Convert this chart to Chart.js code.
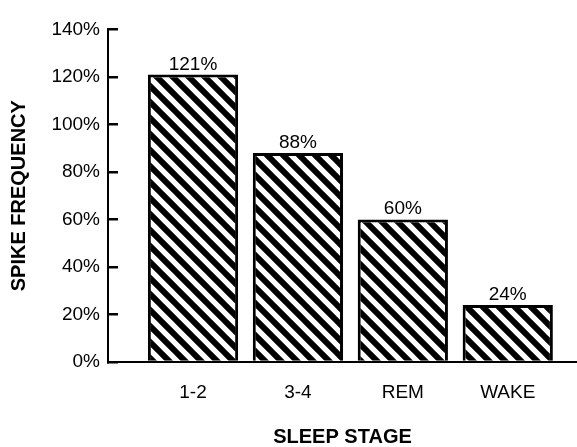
<!DOCTYPE html>
<html>
<head>
<meta charset="utf-8">
<title>Spike frequency by sleep stage</title>
<script src="https://cdn.jsdelivr.net/npm/chart.js@4.4.1/dist/chart.umd.min.js"></script>
<style>
  html, body { margin: 0; padding: 0; background: #fff; }
  canvas { display: block; }
</style>
</head>
<body>
<canvas id="myChart" width="577" height="447"></canvas>
<script>
// values
var stages = ['1-2', '3-4', 'REM', 'WAKE'];
var spikeFreq = [121, 88, 60, 24];
var yTicks = [0, 20, 40, 60, 80, 100, 120, 140];

var FONT = '"Liberation Sans", Arial, Helvetica, sans-serif';

// diagonal hatch like the printed bars
function hatch() {
    var s = 16;
    var c = document.createElement('canvas');
    c.width = s; c.height = s;
    var g = c.getContext('2d');
    g.fillStyle = '#fff';
    g.fillRect(0, 0, s, s);
    g.strokeStyle = '#000';
    g.lineWidth = 6;
    g.beginPath();
    [-s, 0, s].forEach(function(o) {
        g.moveTo(o - 2, -2);
        g.lineTo(o + s + 2, s + 2);
    });
    g.stroke();
    return g.createPattern(c, 'repeat');
}

// percent text on top of each bar
var barLabels = {
    id: 'barLabels',
    afterDatasetsDraw: function(chart) {
        var ctx = chart.ctx;
        var meta = chart.getDatasetMeta(0);
        ctx.save();
        ctx.font = '19px ' + FONT;
        ctx.fillStyle = '#000';
        ctx.textAlign = 'center';
        ctx.textBaseline = 'alphabetic';
        meta.data.forEach(function(bar, i) {
            ctx.fillText(spikeFreq[i] + '%', bar.x, bar.y - 5);
        });
        ctx.restore();
    }
};

var points = stages.map(function(s, i) { return { x: i + 1, y: spikeFreq[i] }; });

var chart = new Chart(document.getElementById('myChart').getContext('2d'), {
    type: 'bar',
    data: {
        datasets: [{
            data: points,
            backgroundColor: hatch(),
            borderColor: '#000',
            borderWidth: 3,
            barPercentage: 0.86,
            categoryPercentage: 1
        }]
    },
    options: {
        responsive: false,
        animation: false,
        devicePixelRatio: 1,
        layout: { padding: { top: 18, right: 0, bottom: 0, left: 0 } },
        plugins: { legend: { display: false }, tooltip: { enabled: false } },
        scales: {
            x: {
                type: 'linear',
                min: 0.19,
                max: 4.66,
                offset: false,
                grid: { display: false, offset: false },
                border: { display: true, color: '#000', width: 2 },
                ticks: {
                    stepSize: 1,
                    includeBounds: false,
                    autoSkip: false,
                    maxRotation: 0,
                    padding: 11,
                    color: '#000',
                    font: { family: FONT, size: 19 },
                    callback: function(v) {
                        return (Number.isInteger(v) && stages[v - 1]) ? stages[v - 1] : '';
                    }
                },
                title: {
                    display: true,
                    text: 'SLEEP STAGE',
                    color: '#000',
                    font: { family: FONT, size: 20, weight: 'bold', lineHeight: 1 },
                    padding: { top: 0, bottom: 0 }
                },
                afterFit: function(s) { s.height = 85; }
            },
            y: {
                min: yTicks[0],
                max: yTicks[yTicks.length - 1],
                grid: {
                    display: true,
                    drawOnChartArea: false,
                    drawTicks: true,
                    tickLength: -10,
                    lineWidth: 2.5,
                    color: '#000'
                },
                border: { display: true, color: '#000', width: 2 },
                ticks: {
                    stepSize: yTicks[1] - yTicks[0],
                    padding: 18,
                    color: '#000',
                    font: { family: FONT, size: 19 },
                    callback: function(v) { return v + '%'; }
                },
                title: {
                    display: true,
                    text: 'SPIKE FREQUENCY',
                    color: '#000',
                    font: { family: FONT, size: 20, weight: 'bold', lineHeight: 1 },
                    padding: { top: 9, bottom: 0 }
                },
                afterFit: function(s) { s.width = 108; }
            }
        }
    },
    plugins: [barLabels]
});
</script>
</body>
</html>
